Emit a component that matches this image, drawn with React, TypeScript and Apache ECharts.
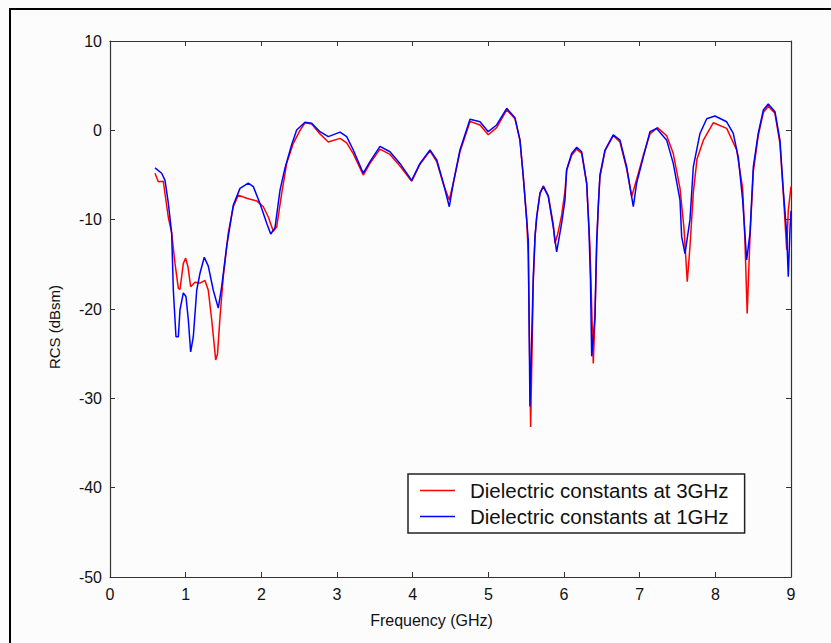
import React, { useEffect, useRef } from "react";
import * as echarts from "echarts";

// Dielectric constants at 3GHz (red)
const freq3 = [
  0.595, 0.638, 0.704, 0.77, 0.815, 0.859, 0.903, 0.925, 0.969, 1.0, 1.031, 1.066, 1.123, 1.189, 1.255,
  1.299, 1.344, 1.397, 1.421, 1.454, 1.497, 1.563, 1.629, 1.696, 1.807, 1.939, 2.026, 2.092, 2.158, 2.203,
  2.269, 2.335, 2.422, 2.511, 2.577, 2.666, 2.775, 2.885, 3.04, 3.128, 3.215, 3.347, 3.436, 3.568, 3.7,
  3.832, 3.987, 4.097, 4.229, 4.318, 4.405, 4.484, 4.537, 4.625, 4.758, 4.89, 4.999, 5.11, 5.243, 5.352,
  5.418, 5.462, 5.507, 5.528, 5.559, 5.594, 5.617, 5.639, 5.683, 5.727, 5.792, 5.858, 5.881, 5.92, 5.969,
  6.013, 6.035, 6.101, 6.168, 6.234, 6.3, 6.343, 6.387, 6.409, 6.432, 6.453, 6.475, 6.542, 6.651, 6.74,
  6.828, 6.894, 6.96, 7.048, 7.136, 7.235, 7.357, 7.444, 7.533, 7.586, 7.629, 7.665, 7.709, 7.758, 7.842,
  7.974, 8.15, 8.282, 8.361, 8.39, 8.421, 8.458, 8.502, 8.567, 8.634, 8.7, 8.788, 8.854, 8.898, 8.943,
  8.964, 9.0,
];
const rcs3 = [
  -4.8, -5.75, -5.7, -9.7, -11.5, -14.9, -17.7, -17.8, -14.9, -14.3, -15.3, -17.5, -17, -17.1, -16.8,
  -17.9, -21.2, -25.7, -25, -20.9, -16.4, -11.5, -8.55, -7.25, -7.6, -7.9, -8.55, -9.7, -11.3, -10.8,
  -7.05, -3.7, -1.45, 0, 0.85, 0.7, -0.4, -1.3, -0.9, -1.4, -2.6, -5, -3.7, -2.1, -2.7,
  -4, -5.7, -3.8, -2.3, -3.5, -6, -7.8, -5.9, -2.4, 1.0, 0.6, -0.5, 0.3, 2.3, 1.3,
  -1.1, -5.2, -10, -14, -33.2, -17, -12, -9.7, -7, -6.2, -7.3, -10.5, -12.65, -11.5, -9.5,
  -6.8, -4.5, -2.8, -2.1, -2.6, -6, -13, -26.1, -21, -13, -8.5, -5.2, -2.3, -0.6, -1.3,
  -4.3, -7.4, -5.5, -2.8, -0.4, 0.3, -0.6, -2.6, -6.5, -11, -16.95, -13, -7, -3.2, -1.1,
  0.85, 0.22, -2.2, -6.5, -12, -20.5, -12, -4.6, -0.6, 2, 2.7, 1.9, -1.5, -7, -13.4,
  -9, -6.3,
];

// Dielectric constants at 1GHz (blue)
const freq1 = [
  0.595, 0.683, 0.727, 0.77, 0.815, 0.837, 0.872, 0.903, 0.925, 0.969, 1.004, 1.035, 1.066, 1.101, 1.146,
  1.189, 1.246, 1.299, 1.365, 1.431, 1.476, 1.542, 1.629, 1.718, 1.828, 1.894, 1.982, 2.071, 2.124, 2.181,
  2.247, 2.313, 2.401, 2.467, 2.577, 2.666, 2.775, 2.885, 3.04, 3.128, 3.215, 3.347, 3.436, 3.568, 3.7,
  3.832, 3.987, 4.097, 4.229, 4.318, 4.405, 4.484, 4.537, 4.625, 4.758, 4.89, 4.999, 5.11, 5.243, 5.352,
  5.418, 5.462, 5.507, 5.528, 5.55, 5.594, 5.617, 5.639, 5.683, 5.727, 5.792, 5.858, 5.903, 5.969, 6.013,
  6.035, 6.101, 6.168, 6.234, 6.3, 6.33, 6.35, 6.366, 6.409, 6.432, 6.453, 6.475, 6.542, 6.651, 6.74,
  6.828, 6.916, 6.96, 7.048, 7.136, 7.225, 7.357, 7.444, 7.533, 7.555, 7.599, 7.665, 7.709, 7.797, 7.886,
  7.995, 8.15, 8.237, 8.303, 8.361, 8.414, 8.458, 8.502, 8.567, 8.634, 8.7, 8.788, 8.854, 8.898, 8.943,
  8.964, 8.986, 9.0,
];
const rcs1 = [
  -4.2, -4.8, -5.6, -8.1, -11.5, -17.9, -23.1, -23.1, -20.1, -18.2, -18.6, -21.2, -24.8, -23.1, -17.9,
  -16, -14.2, -15.2, -17.9, -19.9, -17.5, -13, -8.4, -6.5, -5.9, -6.3, -8.2, -10.4, -11.6, -10.9,
  -6.7, -4.2, -1.6, 0.03, 0.9, 0.8, -0.15, -0.7, -0.2, -0.7, -2.2, -4.8, -3.5, -1.8, -2.4,
  -3.7, -5.6, -3.7, -2.2, -3.3, -5.9, -8.55, -5.9, -2.2, 1.23, 0.96, -0.15, 0.6, 2.46, 1.4,
  -1.1, -5.2, -10, -12.3, -30.9, -16.4, -11.9, -9.7, -7.05, -6.3, -7.4, -10.8, -13.6, -10.4, -7.8,
  -4.4, -2.6, -1.9, -2.4, -5.9, -11.2, -16.8, -25.3, -20.9, -12.3, -8.55, -5, -2.2, -0.5, -1.1,
  -4.1, -8.55, -5.9, -3, -0.15, 0.2, -1.1, -3.7, -7.8, -11.9, -13.8, -10, -4.1, -0.35, 1.3,
  1.6, 0.96, -0.35, -3, -7.8, -14.5, -11.5, -4.1, -0.35, 2.27, 2.95, 2.08, -1.1, -6.7, -11.5,
  -16.4, -11.2, -9,
];

const seriesNames = ["Dielectric constants at 3GHz", "Dielectric constants at 1GHz"];
const xTicks = { min: 0, max: 9, interval: 1 };
const yTicks = { min: -50, max: 10, interval: 10 };

const FONT = "'Liberation Sans', Arial, sans-serif";

export default function App() {
  const ref = useRef<HTMLDivElement>(null);
  useEffect(() => {
    if (!ref.current) return;
    const chart = echarts.init(ref.current, undefined, { renderer: "svg" });
    const pairs = (xs: number[], ys: number[]) => xs.map((x, i) => [x, ys[i]]);
    const axisLine = { show: true, onZero: false, lineStyle: { color: "#333", width: 1.2 } };
    const tick = { show: true, inside: true, length: 5, lineStyle: { color: "#333", width: 1 } };
    chart.setOption({
      animation: false,
      backgroundColor: "#fcfcfc",
      grid: { left: 110, top: 41, right: 40, bottom: 66, containLabel: false },
      graphic: [
        {
          type: "rect",
          shape: { x: 10, y: 9, width: 900, height: 800 },
          style: { fill: "none", stroke: "#000", lineWidth: 2 },
          silent: true,
          z: 100,
        },
      ],
      legend: {
        orient: "vertical",
        left: 408,
        top: 474,
        data: seriesNames,
        icon: "rect",
        itemWidth: 35,
        itemHeight: 1.5,
        itemGap: 5,
        padding: [6, 16, 6, 12],
        borderColor: "#222",
        borderWidth: 1.5,
        borderRadius: 0,
        backgroundColor: "#ffffff",
        textStyle: {
          fontFamily: FONT,
          fontSize: 20.5,
          color: "#111",
          lineHeight: 20,
          padding: [0, 0, 0, 10],
        },
        selectedMode: false,
      },
      xAxis: [
        {
          type: "value",
          position: "bottom",
          ...xTicks,
          name: "Frequency (GHz)",
          nameLocation: "middle",
          nameGap: 35,
          nameTextStyle: { fontFamily: FONT, fontSize: 16, color: "#111", padding: [0, 38, 0, 0] },
          axisLine,
          axisTick: tick,
          axisLabel: { fontFamily: FONT, fontSize: 16, color: "#111", margin: 9 },
          splitLine: { show: false },
        },
        {
          type: "value",
          position: "top",
          ...xTicks,
          axisLine,
          axisTick: tick,
          axisLabel: { show: false },
          splitLine: { show: false },
        },
      ],
      yAxis: [
        {
          type: "value",
          position: "left",
          ...yTicks,
          name: "RCS (dBsm)",
          nameLocation: "middle",
          nameGap: 48,
          nameRotate: 90,
          nameTextStyle: { fontFamily: FONT, fontSize: 15, color: "#111", padding: [0, 36, 0, 0] },
          axisLine,
          axisTick: tick,
          axisLabel: { fontFamily: FONT, fontSize: 16, color: "#111", margin: 8 },
          splitLine: { show: false },
        },
        {
          type: "value",
          position: "right",
          ...yTicks,
          axisLine,
          axisTick: tick,
          axisLabel: { show: false },
          splitLine: { show: false },
        },
      ],
      series: [
        {
          name: seriesNames[0],
          type: "line",
          data: pairs(freq3, rcs3),
          showSymbol: false,
          symbol: "none",
          lineStyle: { color: "#ff0000", width: 1.5 },
          itemStyle: { color: "#ff0000" },
          z: 2,
        },
        {
          name: seriesNames[1],
          type: "line",
          data: pairs(freq1, rcs1),
          showSymbol: false,
          symbol: "none",
          lineStyle: { color: "#0000ff", width: 1.5 },
          itemStyle: { color: "#0000ff" },
          z: 3,
        },
      ],
    });
    return () => chart.dispose();
  }, []);
  return (
    <div
      ref={ref}
      style={{ position: "fixed", left: 0, top: 0, width: 831, height: 643 }}
    />
  );
}
